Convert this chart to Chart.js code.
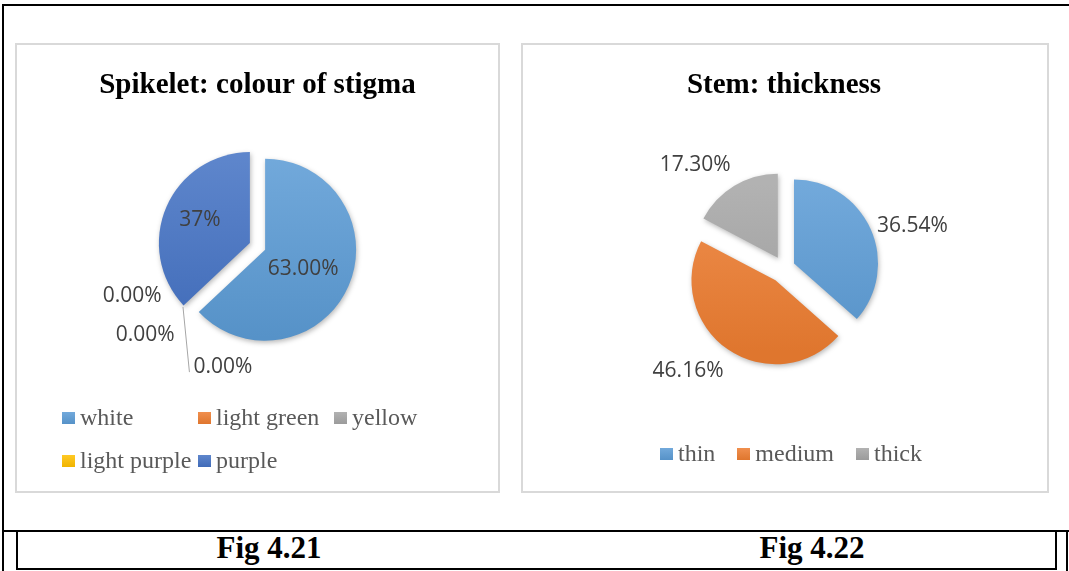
<!DOCTYPE html>
<html>
<head>
<meta charset="utf-8">
<script src="https://cdn.jsdelivr.net/npm/chart.js"></script>
<style>
  html, body { margin: 0; padding: 0; background: #fff; }
  body { width: 1069px; height: 571px; position: relative; overflow: hidden; }
  .ln { position: absolute; background: #000; }
  .box { position: absolute; border: 2px solid #d9d9d9; box-sizing: border-box; }
  canvas { position: absolute; }
  .legend { position: absolute; font-family: "Liberation Serif", "Times New Roman", serif; font-size: 24px; color: #595959; }
  .legend .item { display: flex; align-items: center; height: 43px; white-space: nowrap; }
  .legend .sw { width: 13px; height: 12px; margin-right: 5px; flex: none; }
  .fig { position: absolute; top: 532px; font-family: "Liberation Serif", "Times New Roman", serif; font-weight: bold; font-size: 31px; line-height: 31px; width: 200px; text-align: center; color: #000; }
</style>
</head>
<body>
<div class="ln" style="left:2px;top:4px;width:1067px;height:2px"></div>
<div class="ln" style="left:2px;top:4px;width:2px;height:567px"></div>
<div class="ln" style="left:2px;top:530px;width:1067px;height:2px"></div>
<div class="ln" style="left:16px;top:530px;width:2px;height:40px"></div>
<div class="ln" style="left:16px;top:568px;width:1041px;height:2px"></div>
<div class="ln" style="left:1055px;top:530px;width:2px;height:40px"></div>
<div class="ln" style="left:1066px;top:530px;width:2px;height:41px"></div>

<div class="box" style="left:15px;top:43px;width:485px;height:450px"></div>
<div class="box" style="left:521px;top:43px;width:528px;height:450px"></div>

<canvas id="stigma" width="481" height="446" style="left:17px;top:45px"></canvas>
<canvas id="stem" width="524" height="446" style="left:522px;top:45px"></canvas>

<div id="legStigma" class="legend" style="left:62px;top:396px;display:grid;grid-template-columns:136px 136px 136px"></div>
<div id="legStem" class="legend" style="left:660px;top:432px;display:flex;gap:22px"></div>

<div class="fig" style="left:169px">Fig 4.21</div>
<div class="fig" style="left:712px">Fig 4.22</div>

<script>
// Fig 4.21 - spikelet: colour of stigma
const stigmaLabels = ['white', 'light green', 'yellow', 'light purple', 'purple'];
const stigmaValues = [63, 0, 0, 0, 37];
const stigmaText = ['63.00%', '0.00%', '0.00%', '0.00%', '37%'];
const stigmaColors = ['#5B9BD5', '#ED7D31', '#A5A5A5', '#FFC000', '#4472C4'];

// Fig 4.22 - stem: thickness
const stemLabels = ['thin', 'medium', 'thick'];
const stemValues = [36.54, 46.16, 17.30];
const stemColors = ['#5B9BD5', '#ED7D31', '#A5A5A5'];

function shade(hex, amt) {
    var n = parseInt(hex.slice(1), 16);
    var c = [n >> 16, (n >> 8) & 255, n & 255].map(function(v) {
        return Math.round(amt > 0 ? v + (255 - v) * amt : v * (1 + amt));
    });
    return 'rgb(' + c.join(',') + ')';
}

function sliceFill(colors, radius) {
    return function(c) {
        var chart = c.chart, area = chart.chartArea, base = colors[c.dataIndex];
        if (!area) return base;
        var cy = (area.top + area.bottom) / 2;
        var g = chart.ctx.createLinearGradient(0, cy - radius, 0, cy + radius);
        g.addColorStop(0, shade(base, 0.14));
        g.addColorStop(1, shade(base, -0.06));
        return g;
    };
}

// pulls every non-empty slice out along its middle angle
const explode = {
    id: 'explode',
    afterDatasetUpdate(chart, args, opts) {
        args.meta.data.forEach(function(arc, i) {
            if (arc.endAngle - arc.startAngle <= 0) return;
            var d = Array.isArray(opts.distance) ? opts.distance[i] : opts.distance;
            var mid = (arc.startAngle + arc.endAngle) / 2;
            arc.x += Math.cos(mid) * d;
            arc.y += Math.sin(mid) * d;
        });
    }
};

const softShadow = {
    id: 'softShadow',
    beforeDatasetDraw(chart) {
        var ctx = chart.ctx;
        ctx.save();
        ctx.shadowColor = 'rgba(0,0,0,0.28)';
        ctx.shadowBlur = 5;
        ctx.shadowOffsetX = 1;
        ctx.shadowOffsetY = 2;
    },
    afterDatasetDraw(chart) {
        chart.ctx.restore();
    }
};

const sliceText = {
    id: 'sliceText',
    afterDatasetsDraw(chart, args, opts) {
        var ctx = chart.ctx;
        ctx.save();
        ctx.font = '21px "Open Sans", sans-serif';
        ctx.fillStyle = '#404040';
        ctx.textAlign = 'center';
        ctx.textBaseline = 'middle';
        chart.getDatasetMeta(0).data.forEach(function(arc, i) {
            var p = opts.place[i];
            var a = (arc.startAngle + arc.endAngle) / 2 + p.turn * Math.PI / 180;
            var r = arc.outerRadius;
            var lx = arc.x + Math.cos(a) * r * p.dist;
            var ly = arc.y + Math.sin(a) * r * p.dist;
            if (p.leader) {
                var la = (arc.startAngle + arc.endAngle) / 2 + p.leader.turn * Math.PI / 180;
                var w = ctx.measureText(opts.texts[i]).width;
                ctx.strokeStyle = '#a6a6a6';
                ctx.lineWidth = 1;
                ctx.beginPath();
                ctx.moveTo(arc.x + Math.cos(la) * r * p.leader.dist, arc.y + Math.sin(la) * r * p.leader.dist);
                ctx.lineTo(lx - w / 2 - 4, ly + 5);
                ctx.stroke();
            }
            ctx.fillText(opts.texts[i], lx, ly);
        });
        ctx.restore();
    }
};

function pieOptions(title, radius, padBottom, distance, texts, place) {
    return {
        responsive: false,
        animation: false,
        events: [],
        radius: radius,
        layout: { padding: { top: 0, bottom: padBottom, left: 0, right: 0 } },
        plugins: {
            legend: { display: false },
            tooltip: { enabled: false },
            title: {
                display: true,
                text: title,
                color: '#000',
                font: { family: '"Liberation Serif", "Times New Roman", serif', size: 29, weight: 'bold', lineHeight: 1.2 },
                padding: { top: 23, bottom: 8 }
            },
            explode: { distance: distance },
            sliceText: { texts: texts, place: place }
        }
    };
}

function buildLegend(id, labels, colors) {
    var el = document.getElementById(id);
    labels.forEach(function(lab, i) {
        var item = document.createElement('div');
        item.className = 'item';
        var sw = document.createElement('span');
        sw.className = 'sw';
        sw.style.background = 'linear-gradient(' + shade(colors[i], 0.14) + ',' + shade(colors[i], -0.06) + ')';
        item.appendChild(sw);
        item.appendChild(document.createTextNode(lab));
        el.appendChild(item);
    });
}

new Chart(document.getElementById('stigma'), {
    type: 'pie',
    data: {
        labels: stigmaLabels,
        datasets: [{
            data: stigmaValues,
            backgroundColor: sliceFill(stigmaColors, 91),
            borderWidth: 0
        }]
    },
    options: pieOptions('Spikelet: colour of stigma', 91, 109, 8.3, stigmaText, [
        { dist: 0.47, turn: 4 },
        { dist: 1.48, turn: 21.7 },
        { dist: 1.57, turn: 5 },
        { dist: 1.38, turn: -30.8, leader: { dist: 1.055, turn: 4.1 } },
        { dist: 0.605, turn: 1.5 }
    ]),
    plugins: [explode, softShadow, sliceText]
});

new Chart(document.getElementById('stem'), {
    type: 'pie',
    data: {
        labels: stemLabels,
        datasets: [{
            data: stemValues,
            backgroundColor: sliceFill(stemColors, 84),
            borderWidth: 0
        }]
    },
    options: pieOptions('Stem: thickness', 84, 66, [11, 15, 12], stemValues.map(function(v) { return v.toFixed(2) + '%'; }), [
        { dist: 1.48, turn: 6.6 },
        { dist: 1.5, turn: 9.3 },
        { dist: 1.48, turn: -10.5 }
    ]),
    plugins: [explode, softShadow, sliceText]
});

buildLegend('legStigma', stigmaLabels, stigmaColors);
buildLegend('legStem', stemLabels, stemColors);
</script>
</body>
</html>
